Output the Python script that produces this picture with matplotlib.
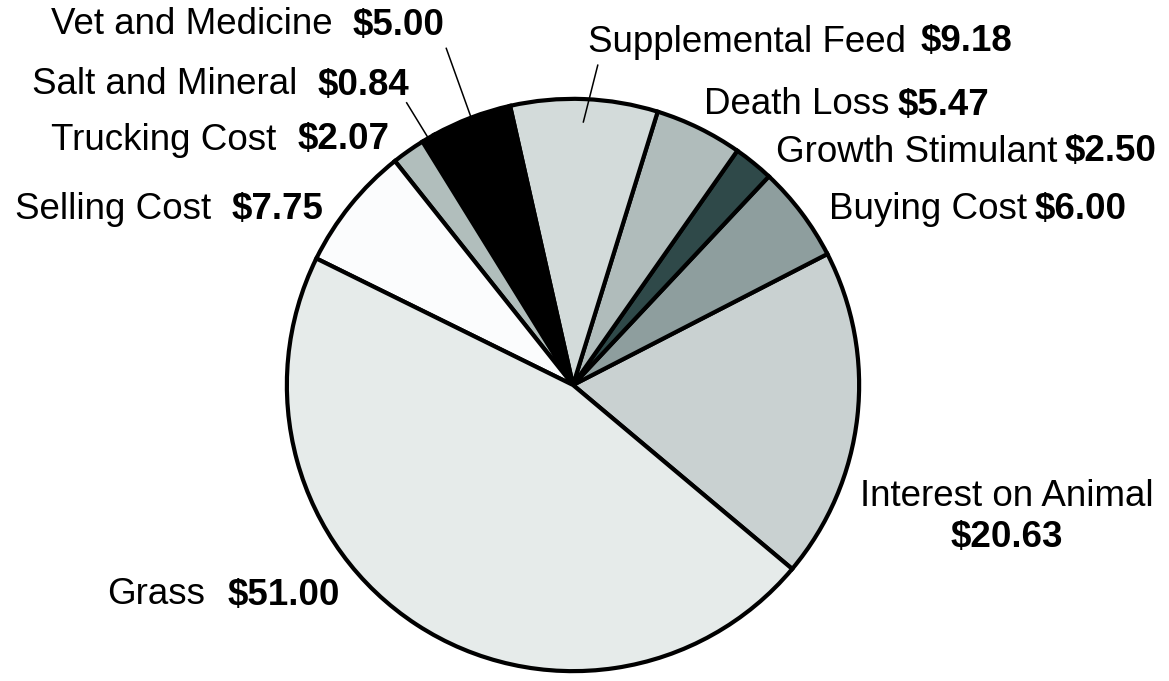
import numpy as np
import matplotlib.pyplot as plt

plt.rcParams['font.family'] = ['Liberation Sans', 'DejaVu Sans']

# slices, counterclockwise starting at the Interest / Grass border
names = ["Interest on Animal", "Buying Cost", "Growth Stimulant", "Death Loss",
         "Supplemental Feed", "Vet and Medicine", "Salt and Mineral",
         "Trucking Cost", "Selling Cost", "Grass"]
values = [20.63, 6.00, 2.50, 5.47, 9.18, 5.00, 0.84, 2.07, 7.75, 51.00]
colors = ["#c9d1d1", "#8e9e9e", "#2f4949", "#b0bcbb", "#d3dbda",
          "#000000", "#000000", "#b1bebc", "#fbfcfd", "#e6ebea"]

W, H = 1169, 681
cx, cy, r = 573, 385, 289

fig = plt.figure(figsize=(W / 100, H / 100), dpi=100)
ax = fig.add_axes([(cx - r) / W, (H - cy - r) / H, 2 * r / W, 2 * r / H])
wedges, _ = ax.pie(values, colors=colors, startangle=-40, counterclock=True,
                   wedgeprops=dict(edgecolor="black", linewidth=3.0))
ax.set_xlim(-1.01, 1.01)
ax.set_ylim(-1.01, 1.01)
ax.set_aspect("equal")
ax.axis("off")


def fx(px):
    return px / W


def fy(py):
    return 1 - py / H


fs = 26.5
# label: (name end x, value start x, y) in pixels
label_pos = {
    "Vet and Medicine": (333, 353, 25),
    "Salt and Mineral": (297, 318, 85),
    "Trucking Cost": (276, 298, 140),
    "Selling Cost": (211, 232, 210),
    "Supplemental Feed": (906, 921, 42),
    "Death Loss": (890, 898, 105),
    "Growth Stimulant": (1057, 1065, 152),
    "Buying Cost": (1027, 1035, 210),
    "Grass": (205, 228, 595),
}
for name, val in zip(names, values):
    if name in label_pos:
        xe, xv, y = label_pos[name]
        fig.text(fx(xe), fy(y), name, ha="right", va="center", fontsize=fs)
        fig.text(fx(xv), fy(y), "$%.2f" % val, ha="left", va="center",
                 fontsize=fs, fontweight="bold")

i = names.index("Interest on Animal")
fig.text(fx(1007), fy(497), names[i], ha="center", va="center", fontsize=fs)
fig.text(fx(1007), fy(537), "$%.2f" % values[i], ha="center", va="center",
         fontsize=fs, fontweight="bold")

# leader lines from label to slice
leaders = {"Vet and Medicine": ((445, 45), 1.0),
           "Salt and Mineral": ((405, 100), 1.0),
           "Supplemental Feed": ((598, 62), 0.92)}
for name, (start, rad) in leaders.items():
    w = wedges[names.index(name)]
    ang = np.deg2rad((w.theta1 + w.theta2) / 2)
    x0 = (start[0] - cx) / r
    y0 = (cy - start[1]) / r
    ax.plot([x0, rad * np.cos(ang)], [y0, rad * np.sin(ang)], color="black",
            lw=1.1, clip_on=False)

fig.savefig("out.png", dpi=100)
